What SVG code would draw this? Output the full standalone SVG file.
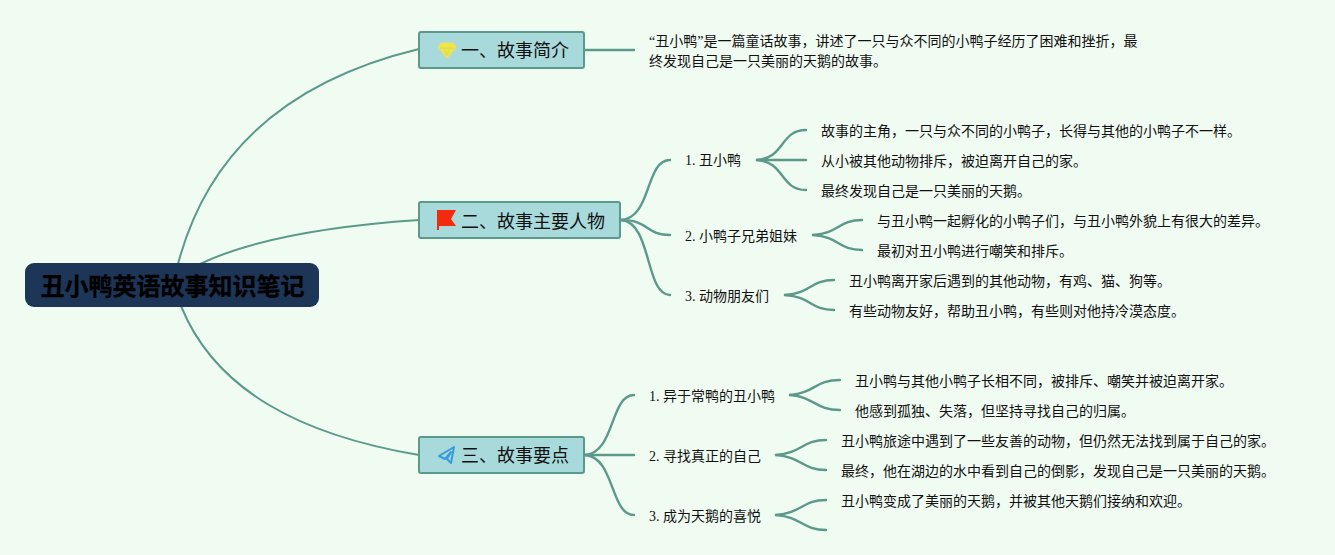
<svg xmlns="http://www.w3.org/2000/svg" width="1335" height="555" viewBox="0 0 1335 555">
<style>
text{font-family:"Liberation Serif","Noto Sans CJK SC",serif;fill:#111;font-size:14px}
.l{fill:none;stroke:#5b9a8b;stroke-width:2;stroke-linecap:round}
.b{stroke-width:2.400}
.t rect{fill:#a8dadc;stroke:#5b9a8b;stroke-width:2}
.t text{font-size:18px}
.r text{font-size:24px;font-weight:700;fill:#000;stroke:#000;stroke-width:.3}
</style>
<rect width="1335" height="555" fill="#f0fbf2"/>
<g id="connectors">
<path class="l" d="M178 264C208 150 290 80 419 49"/>
<path class="l" d="M200 264C250 240 330 226 419 220"/>
<path class="l" d="M181 306C215 390 300 435 419 455"/>
<path class="l b" d="M585 50H634"/>
<path class="l b" d="M621 220C652 218 645 160 670 160"/>
<path class="l b" d="M621 220C650 220 645 235 670 235"/>
<path class="l b" d="M621 220C652 222 645 295 670 295"/>
<path class="l b" d="M757 160C785 158 780 130 806 130"/>
<path class="l b" d="M757 160H806"/>
<path class="l b" d="M757 160C785 162 780 190 806 190"/>
<path class="l b" d="M813 235C840 233 838 220 862 220"/>
<path class="l b" d="M813 235C840 237 838 250 862 250"/>
<path class="l b" d="M785 295C812 293 810 280 834 280"/>
<path class="l b" d="M785 295C812 297 810 310 834 310"/>
<path class="l b" d="M585 455C615 453 610 395 634 395"/>
<path class="l b" d="M585 455H634"/>
<path class="l b" d="M585 455C615 457 610 515 634 515"/>
<path class="l b" d="M790 395C815 393 815 380 840 380"/>
<path class="l b" d="M790 395C815 397 815 410 840 410"/>
<path class="l b" d="M776 455C802 453 802 440 826 440"/>
<path class="l b" d="M776 455C802 457 802 470 826 470"/>
<path class="l b" d="M776 515C802 513 802 500 826 500"/>
<path class="l b" d="M776 515C802 517 802 530 826 530"/>
</g>
<g id="root" class="r">
<rect x="25" y="263" width="294" height="44" rx="9" fill="#1d3557"/>
<text x="40.500" y="295">丑小鸭英语故事知识笔记</text>
</g>
<g id="topic1" class="t">
<rect x="419" y="32" width="165" height="36" rx="2"/>
<path d="M441 43H453L456 47L447 58.500L438 47Z" fill="#f1e740" stroke="#e8e070" stroke-width="1"/>
<path d="M440 48H454M444 48L447 56L450 48" fill="none" stroke="#cfd86a" stroke-width=".8"/>
<text x="461" y="57">一、故事简介</text>
</g>
<g id="topic2" class="t">
<rect x="419" y="202" width="201" height="36" rx="2"/>
<path d="M437 210H456L451 219L456 226H439V230H437Z" fill="#f42a0e"/>
<text x="461" y="228">二、故事主要人物</text>
</g>
<g id="topic3" class="t">
<rect x="419" y="437" width="165" height="36" rx="2"/>
<path d="M454 447L439 456L445 459L451 452L447 459L451 463Z" fill="none" stroke="#3a9bdc" stroke-width="2" stroke-linejoin="round"/>
<text x="461" y="462">三、故事要点</text>
</g>
<g id="intro">
<text x="649" y="46">“丑小鸭”是一篇童话故事，讲述了一只与众不同的小鸭子经历了困难和挫折，最</text>
<text x="649" y="66">终发现自己是一只美丽的天鹅的故事。</text>
</g>
<g id="c1"><text x="685" y="165">1. 丑小鸭</text></g>
<g id="c1a"><text x="821" y="136">故事的主角，一只与众不同的小鸭子，长得与其他的小鸭子不一样。</text></g>
<g id="c1b"><text x="821" y="166">从小被其他动物排斥，被迫离开自己的家。</text></g>
<g id="c1c"><text x="821" y="196">最终发现自己是一只美丽的天鹅。</text></g>
<g id="c2"><text x="685" y="241">2. 小鸭子兄弟姐妹</text></g>
<g id="c2a"><text x="877" y="226">与丑小鸭一起孵化的小鸭子们，与丑小鸭外貌上有很大的差异。</text></g>
<g id="c2b"><text x="877" y="256">最初对丑小鸭进行嘲笑和排斥。</text></g>
<g id="c3"><text x="685" y="301">3. 动物朋友们</text></g>
<g id="c3a"><text x="849" y="286">丑小鸭离开家后遇到的其他动物，有鸡、猫、狗等。</text></g>
<g id="c3b"><text x="849" y="316">有些动物友好，帮助丑小鸭，有些则对他持冷漠态度。</text></g>
<g id="p1"><text x="649" y="401">1. 异于常鸭的丑小鸭</text></g>
<g id="p1a"><text x="855" y="386">丑小鸭与其他小鸭子长相不同，被排斥、嘲笑并被迫离开家。</text></g>
<g id="p1b"><text x="855" y="416">他感到孤独、失落，但坚持寻找自己的归属。</text></g>
<g id="p2"><text x="649" y="461">2. 寻找真正的自己</text></g>
<g id="p2a"><text x="841" y="446">丑小鸭旅途中遇到了一些友善的动物，但仍然无法找到属于自己的家。</text></g>
<g id="p2b"><text x="841" y="476">最终，他在湖边的水中看到自己的倒影，发现自己是一只美丽的天鹅。</text></g>
<g id="p3"><text x="649" y="521">3. 成为天鹅的喜悦</text></g>
<g id="p3a"><text x="841" y="506">丑小鸭变成了美丽的天鹅，并被其他天鹅们接纳和欢迎。</text></g>
</svg>
